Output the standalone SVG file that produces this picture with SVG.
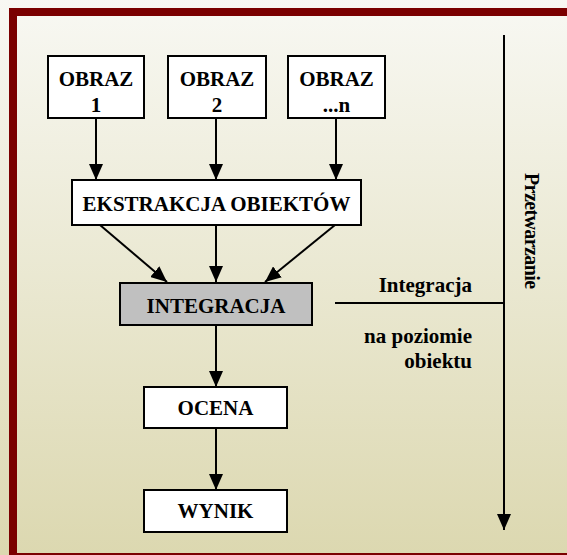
<svg xmlns="http://www.w3.org/2000/svg" width="567" height="555" viewBox="0 0 567 555">
<defs>
<linearGradient id="bg" x1="0" y1="0" x2="0" y2="1">
<stop offset="0" stop-color="#f8f8f3"/>
<stop offset="1" stop-color="#dcd8b0"/>
</linearGradient>
<marker id="ah" viewBox="0 0 16 14" refX="16" refY="7" markerWidth="16" markerHeight="14" markerUnits="userSpaceOnUse" orient="auto">
<path d="M0,0 L16,7 L0,14 Z" fill="#000"/>
</marker>
<style>
.box{fill:#fff;stroke:#000;stroke-width:2}
.t{font-family:"Liberation Serif","Times New Roman",serif;font-weight:bold;font-size:21px;fill:#000;text-anchor:middle}
.r{text-anchor:end}
.ln{stroke:#000;stroke-width:2;fill:none}
</style>
</defs>
<rect x="0" y="0" width="567" height="555" fill="url(#bg)"/>
<rect x="13" y="12" width="560" height="545" fill="none" stroke="#7a0000" stroke-width="8"/>

<g id="connectors">
<line class="ln" x1="96" y1="119" x2="96" y2="180" marker-end="url(#ah)"/>
<line class="ln" x1="216" y1="119" x2="216" y2="180" marker-end="url(#ah)"/>
<line class="ln" x1="336" y1="119" x2="336" y2="180" marker-end="url(#ah)"/>
<line class="ln" x1="100" y1="225" x2="167" y2="282" marker-end="url(#ah)"/>
<line class="ln" x1="216" y1="225" x2="216" y2="282" marker-end="url(#ah)"/>
<line class="ln" x1="335" y1="225" x2="265" y2="282" marker-end="url(#ah)"/>
<line class="ln" x1="216" y1="325" x2="216" y2="387" marker-end="url(#ah)"/>
<line class="ln" x1="216" y1="428" x2="216" y2="490" marker-end="url(#ah)"/>
<line class="ln" x1="504" y1="35" x2="504" y2="530" marker-end="url(#ah)"/>
<line class="ln" x1="335" y1="303" x2="504" y2="303"/>
</g>

<g id="obraz1">
<rect class="box" x="48" y="56" width="96" height="62"/>
<text class="t" x="96" y="86">OBRAZ</text>
<text class="t" x="96" y="112">1</text>
</g>
<g id="obraz2">
<rect class="box" x="168" y="56" width="98" height="62"/>
<text class="t" x="217" y="86">OBRAZ</text>
<text class="t" x="217" y="112">2</text>
</g>
<g id="obrazn">
<rect class="box" x="288" y="56" width="97" height="62"/>
<text class="t" x="336.5" y="86">OBRAZ</text>
<text class="t" x="336.5" y="112">...n</text>
</g>
<g id="ekstrakcja">
<rect class="box" x="72" y="180" width="289" height="45"/>
<text class="t" x="216.5" y="211">EKSTRAKCJA OBIEKTÓW</text>
</g>
<g id="integracja">
<rect class="box" x="120" y="283" width="192" height="42" style="fill:#c0c0c0"/>
<text class="t" x="216" y="313">INTEGRACJA</text>
</g>
<g id="ocena">
<rect class="box" x="144" y="387" width="143" height="41"/>
<text class="t" x="215.5" y="415">OCENA</text>
</g>
<g id="wynik">
<rect class="box" x="144" y="490" width="143" height="42"/>
<text class="t" x="215.5" y="518">WYNIK</text>
</g>
<g id="labels">
<text class="t r" x="472" y="292">Integracja</text>
<text class="t r" x="472" y="343">na poziomie</text>
<text class="t r" x="472" y="368">obiektu</text>
<text class="t" transform="translate(525,173) rotate(90)" x="0" y="0" style="text-anchor:start;font-size:20px;letter-spacing:-0.6px">Przetwarzanie</text>
</g>
</svg>
